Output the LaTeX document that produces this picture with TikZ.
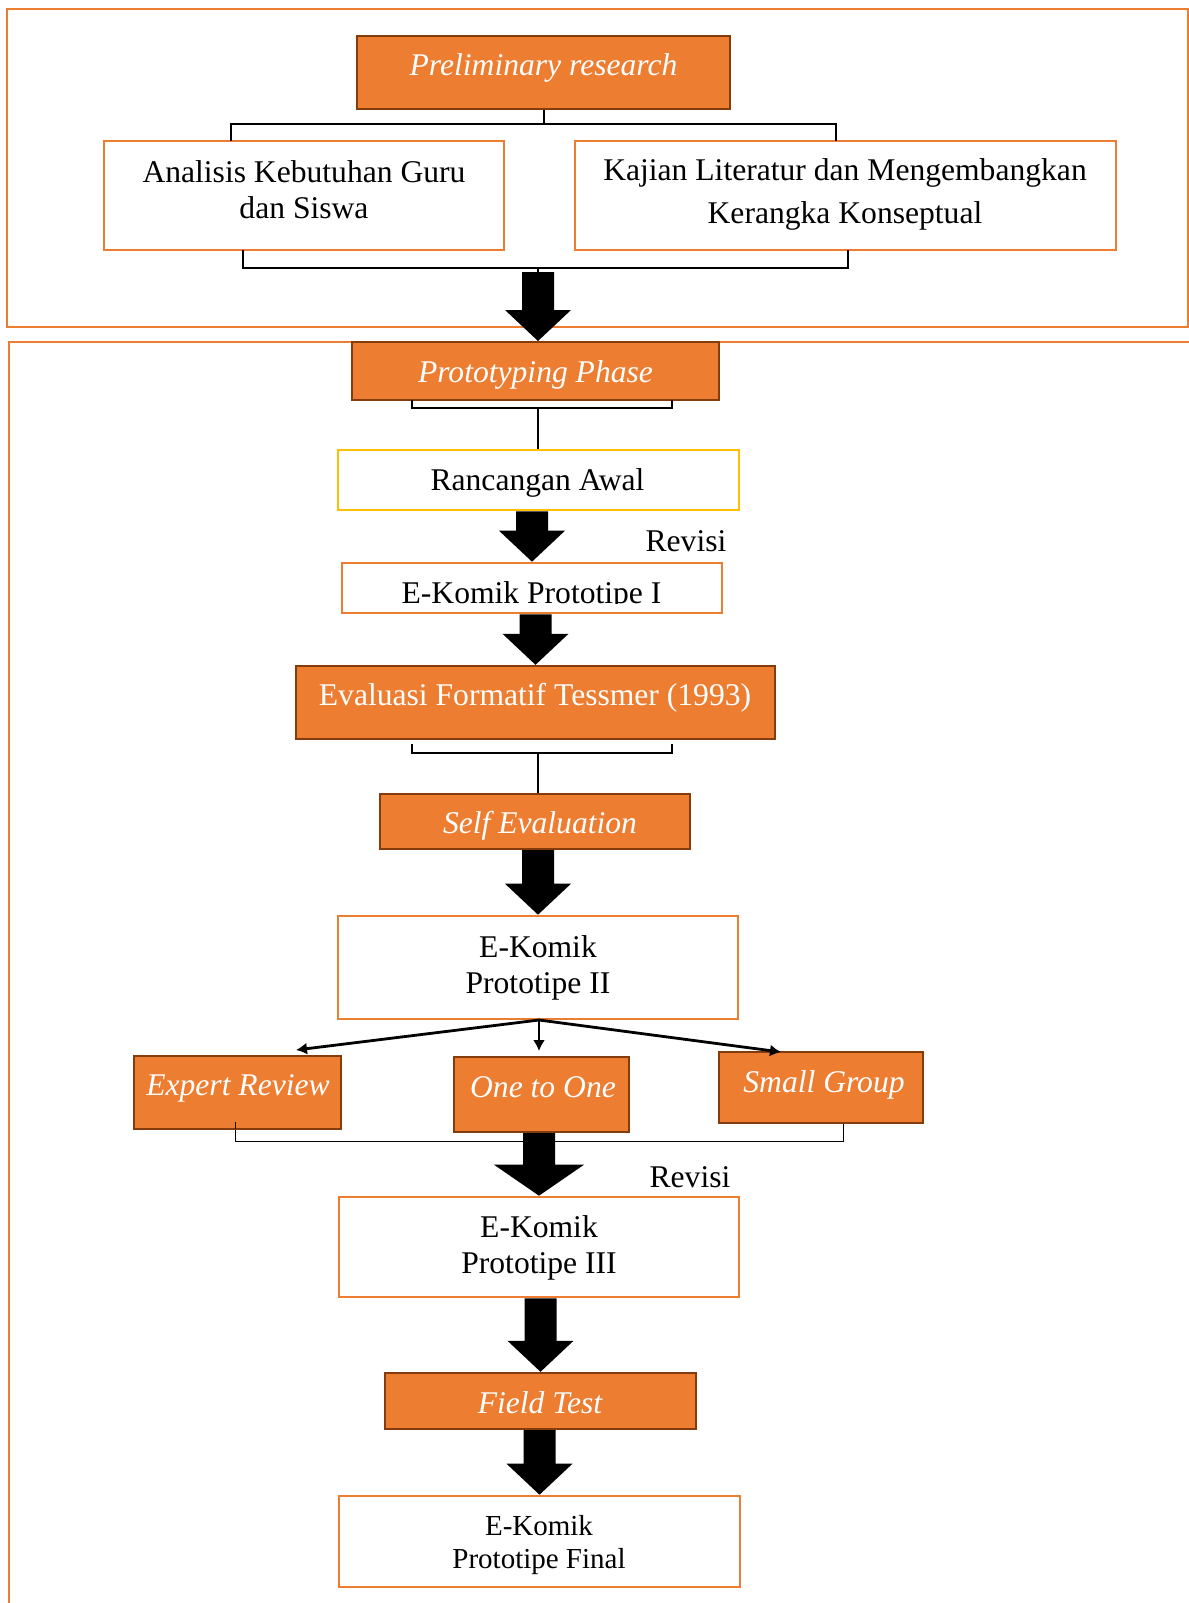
\documentclass[tikz,border=0pt]{standalone}
\usepackage{fontspec}
\setmainfont{Liberation Serif}
\usetikzlibrary{fit,calc,arrows.meta}
\definecolor{org}{HTML}{ED7D31}
\definecolor{brn}{HTML}{843C0C}
\definecolor{ylw}{HTML}{FFC000}
\newcommand\blkarrow[3][33]{%
  \fill[black] let \p1=(#2), \p2=(#3) in
    (\x2-8pt,\y1) -- (\x2+8pt,\y1) -- (\x2+8pt,\y2+15.5pt) -- (\x2+#1*0.5pt,\y2+15.5pt)
    -- (\x2,\y2) -- (\x2-#1*0.5pt,\y2+15.5pt) -- (\x2-8pt,\y2+15.5pt) -- cycle;}
\tikzset{
  outerbox/.style={draw=org,line width=1.25pt},
  obox/.style={draw=brn,fill=org,line width=1.2pt,inner sep=0pt},
  wbox/.style={draw=org,fill=white,line width=1.3pt,inner sep=0pt},
  ybox/.style={draw=ylw,fill=white,line width=1.3pt,inner sep=0pt},
  txt/.style={anchor=base,inner sep=0pt,font=\fontsize{15.8}{18}\selectfont},
  wtxt/.style={txt,text=white},
  itxt/.style={wtxt,font=\fontsize{15.8}{18}\selectfont\itshape},
  brk/.style={draw=black,line width=1pt},
  fan/.style={draw=black,line width=1.4pt,-{Latex[length=5.5pt,width=6pt]}},
}
\begin{document}
\begin{tikzpicture}[x=0.5pt,y=-0.5pt]
\clip (0,0) rectangle (1189,1603);
\fill[white] (0,0) rectangle (1189,1603);
% outer frames
\draw[outerbox] (7,9) rectangle (1188,327);
\draw[outerbox] (9,342) rectangle (1210,1640);
% ---------- preliminary ----------
\node[obox,fit={(357,36)(730,109)}] (prelim) {};
\node[itxt] (prelimT) at (543.5,75) {Preliminary research};
\node[wbox,fit={(104,141)(504,250)}] (anal) {};
\node[txt] (analT1) at (304,182) {Analisis Kebutuhan Guru};
\node[txt] (analT2) at (304,218) {dan Siswa};
\node[wbox,fit={(575,141)(1116,250)}] (kaj) {};
\node[txt] (kajT1) at (845,180) {Kajian Literatur dan Mengembangkan};
\node[txt] (kajT2) at (845,223) {Kerangka Konseptual};
\coordinate (pb) at (543.5,124);
\draw[brk] (prelim.south) -- (pb);
\draw[brk] (231,141) -- (231,124) -- (836,124) -- (836,141);
\coordinate (lb) at (538,268);
\coordinate (a1top) at (538,272);
\draw[brk] (243,250) -- (243,268) -- (848,268) -- (848,250);
\draw[brk] (lb) -- (a1top);
% ---------- prototyping ----------
\node[obox,fit={(352,342)(719,400)}] (proto) {};
\node[itxt] (protoT) at (535.5,382) {Prototyping Phase};
\node[ybox,fit={(338,450)(739,510)}] (ra) {};
\node[txt] (raT) at (537.5,490) {Rancangan Awal};
\coordinate (prb) at (538,408);
\draw[brk] (412,400) -- (412,408) -- (672,408) -- (672,400);
\draw[brk] (prb) -- (prb |- ra.north);
\node[txt] (rev1) at (686,551) {Revisi};
\node[wbox,fit={(342,563)(722,613)}] (p1) {};
\begin{scope}
\clip (330,560) rectangle (740,603.5);
\node[txt] (p1T) at (531.5,603) {E-Komik Prototipe I};
\end{scope}
\node[obox,fit={(296,666)(775,739)}] (eval) {};
\node[wtxt] (evalT) at (535,705) {Evaluasi Formatif Tessmer (1993)};
\coordinate (evb) at (538,753);
\draw[brk] (412,744) -- (412,753) -- (672,753) -- (672,744);
\node[obox,fit={(380,794)(690,849)}] (self) {};
\node[itxt] (selfT) at (540,833) {Self Evaluation};
\draw[brk] (evb) -- (evb |- self.north);
\node[wbox,fit={(338,916)(738,1019)}] (p2) {};
\node[txt] (p2T1) at (538,957) {E-Komik};
\node[txt] (p2T2) at (538,993) {Prototipe II};
% ---------- three evaluations ----------
\draw[line width=0.5pt] (235,1122) -- (235,1141) -- (843,1141) -- (843,1123);
\node[obox,fit={(134,1056)(341,1129)}] (er) {};
\node[itxt] (erT) at (238,1095) {Expert Review};
\node[obox,fit={(454,1057)(629,1132)}] (oto) {};
\node[itxt] (otoT) at (543,1097) {One to One};
\node[obox,fit={(719,1052)(923,1123)}] (sg) {};
\node[itxt] (sgT) at (824,1092) {Small Group};
\draw[line width=0.5pt] (235,1122) -- (235,1129);
\coordinate (fo) at (539,1020);
\coordinate (erTip) at (296,1050);
\coordinate (otoTip) at (539,1051);
\coordinate (sgTip) at (781,1052);
\draw[fan] (fo) -- (erTip);
\draw[fan] (fo) -- (otoTip);
\draw[fan] (fo) -- (sgTip);
\node[txt] (rev2) at (690,1187) {Revisi};
\node[wbox,fit={(339,1197)(739,1297)}] (p3) {};
\node[txt] (p3T1) at (539,1237) {E-Komik};
\node[txt] (p3T2) at (539,1273) {Prototipe III};
\node[obox,fit={(385,1373)(696,1429)}] (field) {};
\node[itxt] (fieldT) at (540,1413) {Field Test};
\node[wbox,fit={(339,1496)(740,1587)}] (final) {};
\node[txt,font=\fontsize{14.5}{17}\selectfont] (fT1) at (539,1535) {E-Komik};
\node[txt,font=\fontsize{14.5}{17}\selectfont] (fT2) at (539,1568) {Prototipe Final};
% ---------- block arrows ----------
\coordinate (a1tip) at (538,341);
\blkarrow{a1top}{a1tip}
\blkarrow{ra.south}{p1.north}
\blkarrow{p1.south}{eval.north}
\blkarrow{self.south}{p2.north}
\blkarrow[45]{oto.south}{p3.north}
\blkarrow{p3.south}{field.north}
\blkarrow{field.south}{final.north}
\end{tikzpicture}
\end{document}
